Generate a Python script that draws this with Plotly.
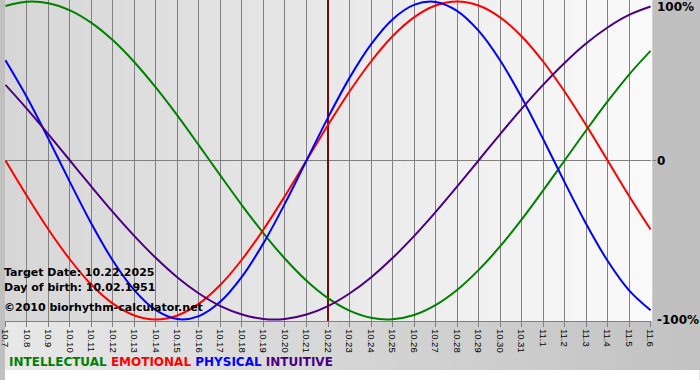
import plotly.graph_objects as go

# ---- data ----
dates = ["10.7", "10.8", "10.9", "10.10", "10.11", "10.12", "10.13", "10.14", "10.15",
         "10.16", "10.17", "10.18", "10.19", "10.20", "10.21", "10.22", "10.23", "10.24",
         "10.25", "10.26", "10.27", "10.28", "10.29", "10.30", "10.31", "11.1", "11.2",
         "11.3", "11.4", "11.5", "11.6"]
target_index = 15

intellectual = [97.2, 99.9, 99.0, 94.5, 86.6, 75.6, 61.8, 45.8, 28.2, 9.5, -9.5, -28.2,
                -45.8, -61.8, -75.6, -86.6, -94.5, -99.0, -99.9, -97.2, -91.0, -81.5,
                -69.0, -54.1, -37.2, -18.9, 0.0, 18.9, 37.2, 54.1, 69.0]
emotional = [0.0, -22.3, -43.4, -62.3, -78.2, -90.1, -97.5, -100.0, -97.5, -90.1, -78.2,
             -62.3, -43.4, -22.3, 0.0, 22.3, 43.4, 62.3, 78.2, 90.1, 97.5, 100.0, 97.5,
             90.1, 78.2, 62.3, 43.4, 22.3, 0.0, -22.3, -43.4]
physical = [63.1, 39.8, 13.6, -13.6, -39.8, -63.1, -81.7, -94.2, -99.8, -97.9, -88.8,
            -73.1, -52.0, -27.0, 0.0, 27.0, 52.0, 73.1, 88.8, 97.9, 99.8, 94.2, 81.7,
            63.1, 39.8, 13.6, -13.6, -39.8, -63.1, -81.7, -94.2]
intuitive = [47.6, 32.5, 16.5, 0.0, -16.5, -32.5, -47.6, -61.4, -73.6, -83.7, -91.6,
             -96.9, -99.7, -99.7, -96.9, -91.6, -83.7, -73.6, -61.4, -47.6, -32.5, -16.5,
             0.0, 16.5, 32.5, 47.6, 61.4, 73.6, 83.7, 91.6, 96.9]

y_min, y_max = -101, 101
y_ticks = [100, 0, -100]
y_labels = ["100%", "0", "-100%"]

info_lines = ["Target Date: 10.22.2025", "Day of birth: 10.02.1951",
              "\u00a92010 biorhythm-calculator.net"]

series = [("INTELLECTUAL", intellectual, "#008000"),
          ("EMOTIONAL", emotional, "#ff0000"),
          ("PHYSICAL", physical, "#0000ff"),
          ("INTUITIVE", intuitive, "#4b0082")]

# ---- geometry ----
W, H = 700, 380
PL, PR, PT, PB = 0, 651, 0, 321
plot_w = PR - PL
plot_h = PB - PT


def px_x(px):
    return (px - PL) / plot_w


def px_y(py):
    return (PB - py) / plot_h


def lerp_col(c0, c1, t):
    v = [round(a + (b - a) * t) for a, b in zip(c0, c1)]
    return "rgb(%d,%d,%d)" % tuple(v)


shapes = []
# plot-area horizontal gradient
n = 50
for i in range(n):
    shapes.append(dict(type="rect", xref="paper", yref="paper",
                       x0=i / n, x1=(i + 1) / n + 0.002, y0=0, y1=1,
                       fillcolor=lerp_col((214, 214, 214), (250, 250, 250), (i + 0.5) / n),
                       line=dict(width=0), layer="below"))
# bottom strip gradient
for i in range(n):
    shapes.append(dict(type="rect", xref="paper", yref="paper",
                       x0=px_x(i * W / n), x1=px_x((i + 1) * W / n + 1),
                       y0=px_y(370), y1=px_y(PB),
                       fillcolor=lerp_col((232, 232, 232), (194, 194, 194), (i + 0.5) / n),
                       line=dict(width=0), layer="below"))
# white strip at very bottom
shapes.append(dict(type="rect", xref="paper", yref="paper",
                   x0=px_x(0), x1=px_x(W), y0=px_y(H), y1=px_y(370),
                   fillcolor="white", line=dict(width=0), layer="below"))

fig = go.Figure()
# target date marker line (drawn first, so curves sit on top)
fig.add_trace(go.Scatter(x=[target_index, target_index], y=[y_min, y_max], mode="lines",
                         line=dict(color="#7a0a0a", width=2), hoverinfo="skip",
                         cliponaxis=True))
xs = list(range(len(dates)))
for name, vals, col in series:
    fig.add_trace(go.Scatter(x=xs, y=vals, mode="lines", name=name,
                             line=dict(color=col, width=2, shape="spline", smoothing=1.0),
                             hoverinfo="skip"))

annotations = []
for v, lab, ys in zip(y_ticks, y_labels, [-5, 0, -1]):
    annotations.append(dict(xref="paper", yref="y", x=px_x(655), y=v, yshift=ys,
                            text=lab, showarrow=False, xanchor="left", yanchor="middle",
                            font=dict(family="DejaVu Sans", size=12, color="#000000",
                                      weight="bold")))
for txt, py in zip(info_lines, [272, 287, 307]):
    annotations.append(dict(xref="paper", yref="paper", x=px_x(-3), y=px_y(py),
                            text=txt, showarrow=False, xanchor="left", yanchor="middle",
                            font=dict(family="DejaVu Sans", size=11, color="#000000",
                                      weight="bold")))
legend_txt = "&nbsp;".join('<span style="color:%s">%s</span>' % (c, nm) for nm, _, c in series)
annotations.append(dict(xref="paper", yref="paper", x=px_x(2), y=px_y(362),
                        text=legend_txt, showarrow=False, xanchor="left", yanchor="middle",
                        font=dict(family="DejaVu Sans", size=12, weight="bold")))

fig.update_layout(
    width=W, height=H,
    margin=dict(l=PL, r=W - PR, t=PT, b=H - PB, pad=0),
    paper_bgcolor="#c0c0c0",
    plot_bgcolor="#e8e8e8",
    showlegend=False,
    shapes=shapes,
    annotations=annotations,
    xaxis=dict(range=[-0.02, 30.02], tickmode="array", tickvals=xs, ticktext=dates,
               tickangle=90, ticks="outside", ticklen=5, tickcolor="#808080",
               tickfont=dict(family="Liberation Sans", size=9.5, color="#000000"),
               ticklabeloverflow="allow",
               showgrid=True, gridcolor="#808080", gridwidth=1,
               showline=True, linecolor="#808080", linewidth=1,
               zeroline=False, fixedrange=True),
    yaxis=dict(range=[y_min, y_max], side="right", tickmode="array", tickvals=[0],
               showticklabels=False, ticks="outside", ticklen=4, tickcolor="#808080",
               showgrid=False, zeroline=True, zerolinecolor="#808080", zerolinewidth=1,
               showline=False, fixedrange=True),
)

fig.write_html("out.html", config={"displayModeBar": False},
               post_script="document.body.style.margin='0';document.body.style.overflow='hidden';")
